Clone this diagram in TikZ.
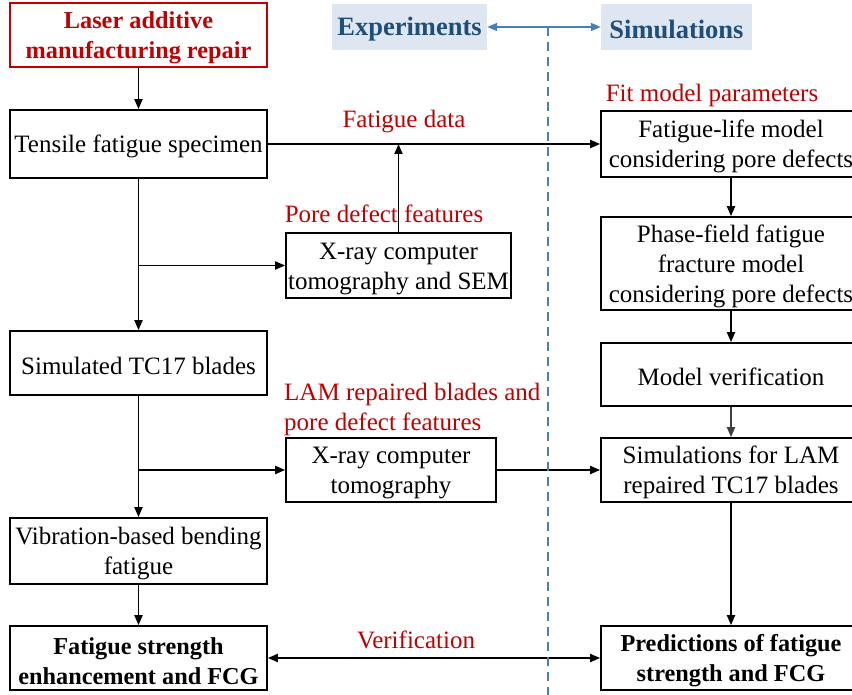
\documentclass[tikz,border=0pt]{standalone}
\usepackage{fontspec}
\setmainfont{Liberation Serif}
\usetikzlibrary{arrows.meta}
\definecolor{lamred}{HTML}{C00000}
\definecolor{hdrblue}{HTML}{1F4E79}
\definecolor{hdrfill}{HTML}{DEE6F1}
\definecolor{lineblue}{HTML}{4A7EBB}
\newcommand{\tup}{\rule{0pt}{23pt}}
\tikzset{
  x=1pt, y=-1pt,
  txt/.style={font=\fontsize{25}{30}\selectfont, align=center, inner sep=0pt},
  box/.style={txt, draw=black, line width=1.7pt},
  redbox/.style={box, draw=lamred, text=lamred, font=\fontsize{24.3}{30}\selectfont\bfseries},
  boldbox/.style={box, font=\fontsize{24.3}{30}\selectfont\bfseries},
  hdr/.style={txt, fill=hdrfill, text=hdrblue, font=\fontsize{26.5}{30}\selectfont\bfseries},
  lbl/.style={txt, text=lamred},
  conn/.style={line width=1.9pt, -{Triangle[length=10pt,width=8pt]}},
  dconn/.style={line width=1.9pt, {Triangle[length=10pt,width=8pt]}-{Triangle[length=10pt,width=8pt]}},
}
\begin{document}
\begin{tikzpicture}
\useasboundingbox (0,0) rectangle (852,695);
% headers
\node[hdr, minimum width=155pt, minimum height=46pt] (exp) at (409.5,27) {\tup Experiments};
\node[hdr, minimum width=151pt, minimum height=46pt] (simh) at (676.5,27) {\tup Simulations};
% left column
\node[redbox, minimum width=257pt, minimum height=64pt] (laser) at (138.5,35) {\tup Laser additive\\manufacturing repair};
\node[box, minimum width=257pt, minimum height=68pt] (tens) at (138.5,144) {\tup Tensile fatigue specimen};
\node[box, minimum width=225pt, minimum height=65pt] (xr1) at (398.5,265.5) {\tup X-ray computer\\tomography and SEM};
\node[box, minimum width=257pt, minimum height=64pt] (sim) at (138.5,363) {\tup Simulated TC17 blades};
\node[box, minimum width=210pt, minimum height=64pt] (xr2) at (391,470) {\tup X-ray computer\\tomography};
\node[box, minimum width=257pt, minimum height=66pt] (vib) at (138.5,551) {\tup Vibration-based bending\\fatigue};
\node[boldbox, minimum width=257pt, minimum height=64pt] (fsb) at (138.5,658) {\tup Fatigue strength\\enhancement and FCG};
% right column
\node[box, minimum width=260pt, minimum height=66pt] (flm) at (731,144) {\tup Fatigue-life model\\considering pore defects};
\node[box, minimum width=260pt, minimum height=93pt] (pf) at (731,263.5) {\tup Phase-field fatigue\\fracture model\\considering pore defects};
\node[box, minimum width=260pt, minimum height=63pt] (mv) at (731,374.5) {\tup Model verification};
\node[box, minimum width=260pt, minimum height=64pt] (slam) at (731,470) {\tup Simulations for LAM\\repaired TC17 blades};
\node[boldbox, minimum width=260pt, minimum height=64pt] (pred) at (731,658) {\tup Predictions of fatigue\\strength and FCG};
% labels
\node[lbl] (fit) at (712,93) {\tup Fit model parameters};
\node[lbl] (fd) at (404,119) {\tup Fatigue data};
\node[lbl] (pdf) at (384,211) {\tup Pore defect features};
\node[lbl, anchor=west, align=left] (lam) at (284,406.5) {\tup LAM repaired blades and\\pore defect features};
\node[lbl] (ver) at (416,637) {\tup Verification};
% helper coordinates
\coordinate (j1) at (xr1.north |- tens.east);
\coordinate (b1) at (tens.south |- xr1.west);
\coordinate (b2) at (sim.south |- xr2.west);
\coordinate (dtop) at (548,27);
\coordinate (dbot) at (548,695);
% connectors
\draw[conn] (laser) -- (tens);
\draw[conn] (tens.east) -- (flm.west);
\draw[conn] (xr1.north) -- (j1);
\draw[conn] (tens) -- (sim);
\draw[conn] (b1) -- (xr1.west);
\draw[conn] (sim) -- (vib);
\draw[conn] (b2) -- (xr2.west);
\draw[conn] (xr2.east) -- (slam.west);
\draw[conn] (vib) -- (fsb);
\draw[dconn] (fsb.east) -- (pred.west);
\draw[conn] (flm) -- (pf);
\draw[conn] (pf) -- (mv);
\draw[conn, draw=black!75, fill=black!75] (mv) -- (slam);
\draw[conn] (slam) -- (pred);
% header arrow and divider
\draw[line width=1.7pt, lineblue, {Triangle[length=10pt,width=8pt]}-{Triangle[length=10pt,width=8pt]}] (exp.east) -- (simh.west);
\draw[line width=1.5pt, lineblue, dash pattern=on 9pt off 6pt] (dtop) -- (dbot);
\end{tikzpicture}
\end{document}
